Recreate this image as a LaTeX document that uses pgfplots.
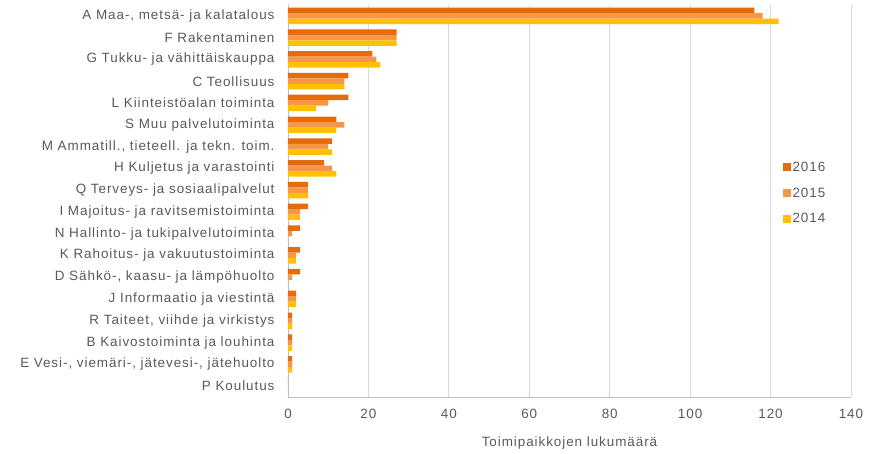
\documentclass[border=0pt]{standalone}
\usepackage{fontspec}
\setmainfont{Liberation Sans}[LetterSpace=7]
\usepackage{pgfplots}
\pgfplotsset{compat=1.18}

\definecolor{c2016}{HTML}{E46C0A}
\definecolor{c2015}{HTML}{F79646}
\definecolor{c2014}{HTML}{FFC000}
\definecolor{txt}{HTML}{595959}
\definecolor{gridc}{HTML}{D9D9D9}
\definecolor{axc}{HTML}{BFBFBF}

\begin{document}
\begin{tikzpicture}
    \useasboundingbox (-288bp,-57bp) rectangle (582bp,397bp);
    \begin{axis}[
        at={(0,0)}, anchor=south west,
        scale only axis,
        width=563bp, height=392bp,
        xbar,
        xmin=0, xmax=140,
        ymin=-0.5, ymax=17.5,
        xtick={0,20,...,140},
        ytick={0,...,17},
        yticklabels={
            P Koulutus,
            {E Vesi-, viemäri-,  jätevesi-, jätehuolto},
            B Kaivostoiminta ja louhinta,
            {R Taiteet, viihde ja virkistys},
            J Informaatio ja viestintä,
            {D Sähkö-, kaasu- ja lämpöhuolto},
            K Rahoitus- ja vakuutustoiminta,
            N Hallinto- ja tukipalvelutoiminta,
            I Majoitus- ja ravitsemistoiminta,
            Q Terveys- ja sosiaalipalvelut,
            H Kuljetus ja varastointi,
            {M Ammatill., tieteell. ja tekn. toim.},
            S Muu palvelutoiminta,
            L Kiinteistöalan toiminta,
            C Teollisuus,
            G Tukku- ja vähittäiskauppa,
            F Rakentaminen,
            {A Maa-, metsä- ja kalatalous}
        },
        axis lines*=left,
        axis line style={axc, line width=0.8bp},
        xmajorgrids,
        grid style={gridc, line width=0.8bp},
        major tick length=0pt,
        tick label style={font=\fontsize{13.5}{15}\selectfont, text=txt},
        /pgf/number format/assume math mode=true,
        xticklabel style={yshift=-9bp},
        yticklabel style={xshift=-10bp},
        xlabel={Toimipaikkojen lukumäärä},
        xlabel style={font=\fontsize{13.5}{15}\selectfont, text=txt, yshift=-11bp},
        legend style={
            at={(0.878,0.52)}, anchor=west,
            draw=none, fill=none,
            font=\fontsize{13.5}{15}\selectfont, text=txt,
            row sep=11bp, inner sep=0pt,
        },
        legend cell align=left,
        legend image code/.code={\fill[#1] (0bp,-4bp) rectangle (8bp,4bp);},
    ]
    \addplot[fill=c2016, draw=none, bar width=5.5bp, bar shift=5.5bp] coordinates {
        (0,0) (1,1) (1,2) (1,3) (2,4) (3,5) (3,6) (3,7) (5,8)
        (5,9) (9,10) (11,11) (12,12) (15,13) (15,14) (21,15) (27,16) (116,17)
    };
    \addplot[fill=c2015, draw=none, bar width=5.5bp, bar shift=0bp] coordinates {
        (0,0) (1,1) (1,2) (1,3) (2,4) (1,5) (2,6) (1,7) (3,8)
        (5,9) (11,10) (10,11) (14,12) (10,13) (14,14) (22,15) (27,16) (118,17)
    };
    \addplot[fill=c2014, draw=none, bar width=5.5bp, bar shift=-5.5bp] coordinates {
        (0,0) (1,1) (1,2) (1,3) (2,4) (0,5) (2,6) (0,7) (3,8)
        (5,9) (12,10) (11,11) (12,12) (7,13) (14,14) (23,15) (27,16) (122,17)
    };
    \legend{2016,2015,2014}
    \end{axis}
\end{tikzpicture}
\end{document}
